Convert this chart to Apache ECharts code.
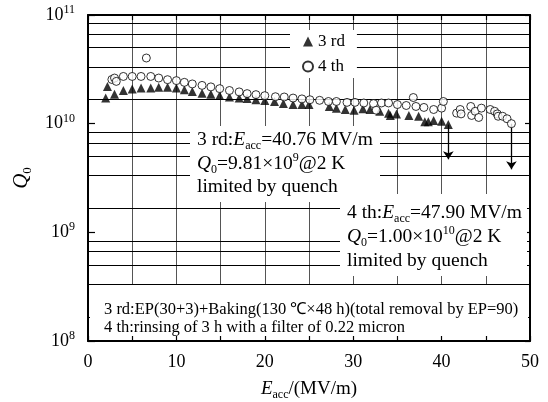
<!DOCTYPE html>
<html lang="en">
<head>
<meta charset="UTF-8">
<title>Q0 - Eacc</title>
<script src="https://cdn.jsdelivr.net/npm/echarts@6/dist/echarts.min.js"></script>
<style>
    html, body { margin: 0; padding: 0; background: #fff; }
    #chart { width: 548px; height: 402px; }
</style>
</head>
<body>
<div id="chart"></div>
<script>
    var FONT = '"Liberation Serif", "Times New Roman", serif';

    // 3 rd 测试
    var e3 = [2.0, 2.2, 3.0, 4.0, 5.0, 6.0, 7.1, 8.0, 9.0, 10.0, 10.9, 11.8, 12.9, 13.9, 14.9, 16.0, 17.1, 18.0, 19.0, 20.0,
              21.1, 22.1, 23.2, 24.2, 25.0, 27.3, 28.1, 29.1, 30.1, 31.1, 31.9, 33.0, 34.0, 34.2, 34.9, 36.3, 37.4, 38.1, 38.5, 39.1, 40.0, 40.76];
    var q3 = [1.72e10, 2.2e10, 1.87e10, 2.02e10, 2.08e10, 2.13e10, 2.13e10, 2.16e10, 2.16e10, 2.13e10, 2.05e10, 1.98e10, 1.91e10, 1.87e10,
              1.82e10, 1.76e10, 1.72e10, 1.70e10, 1.66e10, 1.63e10, 1.60e10, 1.53e10, 1.50e10, 1.50e10, 1.50e10, 1.44e10, 1.39e10, 1.35e10,
              1.33e10, 1.37e10, 1.35e10, 1.30e10, 1.25e10, 1.19e10, 1.23e10, 1.19e10, 1.17e10, 1.04e10, 1.04e10, 1.07e10, 1.05e10, 9.81e9];

    // 4 th 测试
    var e4 = [2.7, 3.0, 3.2, 4.0, 5.0, 6.0, 6.6, 7.1, 8.0, 9.0, 10.0, 10.9, 11.8, 12.9, 13.9, 14.9, 16.0, 17.1, 18.0, 19.0, 20.0,
              21.2, 22.2, 23.2, 24.2, 25.1, 26.2, 27.2, 28.1, 29.3, 30.2, 31.2, 32.3, 32.6, 33.2, 34.0, 35.0, 36.0, 36.8, 37.1, 38.0,
              39.1, 40.0, 40.2, 41.7, 42.1, 42.2, 43.3, 43.4, 43.8, 44.2, 44.5, 45.5, 46.0, 46.3, 46.4, 46.9, 47.4, 47.9];
    var q4 = [2.55e10, 2.63e10, 2.45e10, 2.72e10, 2.72e10, 2.72e10, 4.02e10, 2.72e10, 2.63e10, 2.54e10, 2.49e10, 2.40e10, 2.32e10,
              2.25e10, 2.18e10, 2.10e10, 2.02e10, 1.96e10, 1.89e10, 1.85e10, 1.81e10, 1.77e10, 1.76e10, 1.72e10, 1.69e10, 1.66e10,
              1.64e10, 1.60e10, 1.60e10, 1.57e10, 1.57e10, 1.55e10, 1.53e10, 1.33e10, 1.55e10, 1.55e10, 1.50e10, 1.47e10, 1.74e10,
              1.44e10, 1.41e10, 1.35e10, 1.39e10, 1.60e10, 1.25e10, 1.35e10, 1.23e10, 1.44e10, 1.19e10, 1.30e10, 1.14e10, 1.39e10,
              1.35e10, 1.30e10, 1.23e10, 1.17e10, 1.17e10, 1.11e10, 1.00e10];

    // quench 箭头: [Eacc, 起点 Q0, 终点 Q0]
    var quench = [[40.76, 9.81e9, 4.7e9], [47.90, 1.00e10, 3.8e9]];

    // 水平网格线
    var hLines = [1.667e8, 3.333e8, 5e8, 6.667e8, 8.333e8,
                  1.667e9, 3.333e9, 5e9, 6.667e9, 8.333e9,
                  1.667e10, 3.333e10, 5e10, 6.667e10, 8.333e10];

    function pairs(xs, ys) {
        return xs.map(function (x, i) { return [x, ys[i]]; });
    }

    var R = {
        n: {fontFamily: FONT, fontSize: 19.5, lineHeight: 24, fill: '#000', color: '#000'},
        i: {fontFamily: FONT, fontSize: 19.5, fontStyle: 'italic', lineHeight: 24, fill: '#000', color: '#000'},
        sub: {fontFamily: FONT, fontSize: 12, lineHeight: 12, verticalAlign: 'bottom', fill: '#000', color: '#000'},
        sup: {fontFamily: FONT, fontSize: 12, lineHeight: 12, verticalAlign: 'top', fill: '#000', color: '#000'}
    };

    function txt(x, y, s, rich) {
        return {
            type: 'text', x: x, y: y, z: 51,
            style: {text: s, rich: rich || R, align: 'left', verticalAlign: 'middle', fill: '#000', font: '19px ' + FONT}
        };
    }
    function box(x, y, w, h) {
        return {type: 'rect', z: 50, shape: {x: x, y: y, width: w, height: h}, style: {fill: '#fff'}};
    }

    var small = {n: {fontFamily: FONT, fontSize: 16.5, lineHeight: 18, fill: '#000', color: '#000'}};

    var chart = echarts.init(document.getElementById('chart'));
    var option = {
        animation: false,
        backgroundColor: '#fff',
        grid: {left: 88, right: 18, top: 15, bottom: 61, outerBoundsMode: 'none', containLabel: false},
        legend: {
            data: ['3 rd', '4 th'], orient: 'vertical', left: 290, top: 30,
            itemWidth: 10, itemHeight: 10, itemGap: 8,
            backgroundColor: '#fff', padding: [3, 12, 3, 12], z: 50,
            textStyle: {fontFamily: FONT, fontSize: 17, color: '#000'}
        },
        xAxis: [{
            type: 'value', min: 0, max: 50, interval: 5, position: 'bottom', z: 60,
            axisLine: {show: true, onZero: false, lineStyle: {color: '#000', width: 2}},
            axisTick: {show: true, inside: true, length: 5, lineStyle: {color: '#000', width: 1.2}},
            axisLabel: {
                margin: 12, color: '#000', fontFamily: FONT, fontSize: 18,
                formatter: function (v) { return v % 10 === 0 ? String(v) : ''; }
            },
            splitLine: {show: false},
            name: '{i|E}{sub|acc}{n|/(MV/m)}', nameLocation: 'middle', nameGap: 36,
            nameTextStyle: {rich: {
                i: {fontFamily: FONT, fontSize: 19, fontStyle: 'italic', color: '#000', lineHeight: 24},
                sub: {fontFamily: FONT, fontSize: 12, color: '#000', lineHeight: 12, verticalAlign: 'bottom'},
                n: {fontFamily: FONT, fontSize: 19, color: '#000', lineHeight: 24}
            }}
        }, {
            type: 'value', min: 0, max: 50, interval: 5, position: 'top', z: 0,
            axisLine: {show: true, onZero: false, lineStyle: {color: '#000', width: 2}},
            axisTick: {show: true, inside: true, length: 5, lineStyle: {color: '#000', width: 1.2}},
            axisLabel: {show: false},
            splitLine: {show: true, lineStyle: {color: '#555', width: 1}}
        }],
        yAxis: [{
            type: 'log', logBase: 10, min: 1e8, max: 1e11, position: 'left', z: 60,
            axisLine: {show: true, onZero: false, lineStyle: {color: '#000', width: 2}},
            axisTick: {show: true, inside: true, length: 7, lineStyle: {color: '#000', width: 1.2}},
            axisLabel: {
                margin: 13,
                formatter: function (v) { return '{b|10}{s|' + Math.round(Math.log10(v)) + '}'; },
                rich: {
                    b: {fontFamily: FONT, fontSize: 18, color: '#000', lineHeight: 22},
                    s: {fontFamily: FONT, fontSize: 12, color: '#000', lineHeight: 12, verticalAlign: 'top'}
                }
            },
            splitLine: {show: false},
            name: '{q|Q}{z|0}', nameLocation: 'middle', nameGap: 48, nameRotate: 90,
            nameTextStyle: {rich: {
                q: {fontFamily: FONT, fontSize: 21, fontStyle: 'italic', color: '#000', lineHeight: 26},
                z: {fontFamily: FONT, fontSize: 13, color: '#000', lineHeight: 13, verticalAlign: 'bottom'}
            }}
        }, {
            type: 'log', logBase: 10, min: 1e8, max: 1e11, position: 'right', z: 0,
            axisLine: {show: true, onZero: false, lineStyle: {color: '#000', width: 2}},
            axisTick: {show: true, inside: true, length: 5, lineStyle: {color: '#000', width: 1.2}},
            axisLabel: {show: false},
            splitLine: {show: false}
        }],
        graphic: [
            box(190, 126, 190, 76),
            box(340, 194, 187, 82),
            box(90, 285, 438, 55),
            txt(197, 140, '{n|3 rd:}{i|E}{sub|acc}{n|=40.76 MV/m}'),
            txt(197, 164, '{i|Q}{sub|0}{n|=9.81×10}{sup|9}{n|@2 K}'),
            txt(197, 187, '{n|limited by quench}'),
            txt(347, 213, '{n|4 th:}{i|E}{sub|acc}{n|=47.90 MV/m}'),
            txt(347, 237, '{i|Q}{sub|0}{n|=1.00×10}{sup|10}{n|@2 K}'),
            txt(347, 261, '{n|limited by quench}'),
            txt(104, 310, '{n|3 rd:EP(30+3)+Baking(130 ℃×48 h)(total removal by EP=90)}', small),
            txt(104, 328, '{n|4 th:rinsing of 3 h with a filter of 0.22 micron}', small)
        ],
        series: [{
            name: 'grid', type: 'line', data: [], z: 1, silent: true,
            markLine: {
                silent: true, symbol: ['none', 'none'], label: {show: false},
                lineStyle: {color: '#000', width: 1.2, type: 'solid'},
                data: hLines.map(function (v) { return {yAxis: v}; })
            }
        }, {
            name: '3 rd', type: 'scatter', symbol: 'triangle', symbolSize: 9, z: 70,
            itemStyle: {color: '#000'},
            data: pairs(e3, q3)
        }, {
            name: '4 th', type: 'scatter', symbol: 'circle', symbolSize: 8, z: 70,
            itemStyle: {color: '#fff', borderColor: '#000', borderWidth: 1},
            data: pairs(e4, q4)
        }, {
            name: 'quench', type: 'line', data: [], z: 70, silent: true,
            markLine: {
                silent: true, symbol: ['none', 'arrow'], symbolSize: 8, label: {show: false},
                lineStyle: {color: '#000', width: 1.3, type: 'solid'},
                data: quench.map(function (a) {
                    return [{coord: [a[0], a[1]]}, {coord: [a[0], a[2]]}];
                })
            }
        }]
    };
    chart.setOption(option);
</script>
</body>
</html>
